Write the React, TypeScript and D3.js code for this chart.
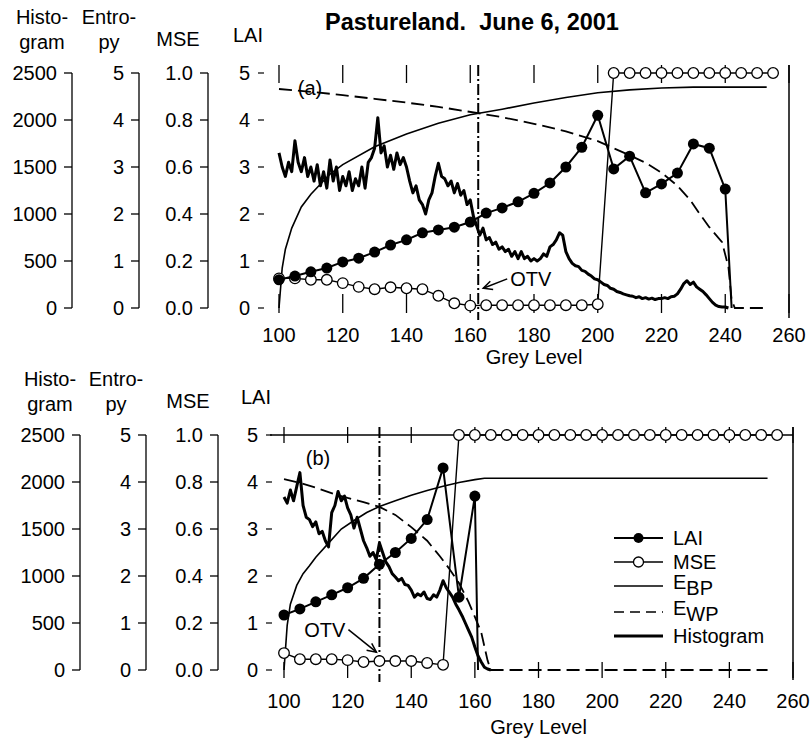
import React from "react";
import * as d3 from "d3";

// ---- axis tick values
const greyTicks = [100, 120, 140, 160, 180, 200, 220, 240, 260];
const histTicks = [0, 500, 1000, 1500, 2000, 2500];
const entropyTicks = [0, 1, 2, 3, 4, 5];
const mseTicks = [0, 0.2, 0.4, 0.6, 0.8, 1.0];
const laiTicks = [0, 1, 2, 3, 4, 5];

// ---- panel (a)
const otvA = 162.5;
const laiGreyA = [100, 105, 110, 115, 120, 125, 130, 135, 140, 145, 150, 155, 160, 165, 170, 175, 180, 185, 190, 195, 200, 205, 210, 215, 220, 225, 230, 235, 240];
const laiA = [0.6, 0.68, 0.77, 0.85, 0.98, 1.06, 1.19, 1.34, 1.45, 1.6, 1.66, 1.72, 1.83, 2.02, 2.13, 2.26, 2.44, 2.66, 3.0, 3.42, 4.1, 2.96, 3.23, 2.45, 2.64, 2.87, 3.49, 3.4, 2.53];
const laiDropA = 242;
const mseGreyA = [100, 105, 110, 115, 120, 125, 130, 135, 140, 145, 150, 155, 160, 165, 170, 175, 180, 185, 190, 195, 200, 205, 210, 215, 220, 225, 230, 235, 240, 245, 250, 255];
const mseA = [0.126, 0.126, 0.12, 0.12, 0.106, 0.09, 0.08, 0.088, 0.084, 0.08, 0.052, 0.02, 0.01, 0.012, 0.012, 0.012, 0.012, 0.012, 0.012, 0.012, 0.016, 1, 1, 1, 1, 1, 1, 1, 1, 1, 1, 1];
const ebpGreyA = [100, 101, 102, 104, 107, 110, 116, 120, 130, 140, 150, 160, 170, 180, 190, 200, 210, 220, 230, 253];
const ebpA = [0, 0.85, 1.25, 1.7, 2.15, 2.42, 2.85, 3.05, 3.43, 3.7, 3.93, 4.11, 4.23, 4.36, 4.48, 4.58, 4.64, 4.68, 4.7, 4.7];
const ewpGreyA = [100, 110, 120, 130, 140, 150, 162, 170, 180, 190, 200, 205, 210, 215, 220, 225, 229, 232, 235, 239, 241, 242, 243, 253];
const ewpA = [4.66, 4.6, 4.53, 4.45, 4.37, 4.28, 4.15, 4.06, 3.92, 3.76, 3.55, 3.4, 3.25, 3.09, 2.88, 2.6, 2.3, 2.0, 1.72, 1.4, 0.87, 0.17, 0, 0];
const histFirstGreyA = 100;
const histA = [
  1650, 1500, 1400, 1550, 1450, 1780, 1550, 1450, 1600, 1400,
  1500, 1350, 1525, 1300, 1450, 1275, 1575, 1350, 1500, 1250,
  1400, 1300, 1450, 1250, 1375, 1300, 1500, 1275, 1550, 1600,
  1700, 2025, 1650, 1725, 1500, 1625, 1475, 1650, 1525, 1600,
  1500, 1350, 1225, 1300, 1150, 1100, 1000, 1150, 1225, 1400,
  1540, 1400, 1375, 1300, 1350, 1225, 1325, 1200, 1250, 1100,
  1150, 975, 875, 775, 850, 725, 750, 675, 700, 625,
  650, 600, 625, 550, 600, 525, 600, 525, 550, 500,
  525, 500, 525, 575, 550, 650, 675, 725, 800, 775,
  600, 525, 475, 450, 440, 400, 390, 360, 340, 310,
  300, 275, 250, 240, 210, 200, 175, 165, 150, 140,
  130, 125, 110, 120, 100, 110, 95, 105, 90, 100,
  100, 110, 100, 120, 125, 150, 200, 260, 290, 250,
  275, 225, 200, 175, 140, 100, 60, 30, 15, 10,
  10, 0,
];

// ---- panel (b)
const otvB = 130;
const laiGreyB = [100, 105, 110, 115, 120, 125, 130, 135, 140, 145, 150, 155, 160];
const laiB = [1.17, 1.3, 1.45, 1.6, 1.75, 1.95, 2.25, 2.5, 2.8, 3.2, 4.3, 1.55, 3.7];
const laiDropB = 161;
const mseGreyB = [100, 105, 110, 115, 120, 125, 130, 135, 140, 145, 150, 155, 160, 165, 170, 175, 180, 185, 190, 195, 200, 205, 210, 215, 220, 225, 230, 235, 240, 245, 250, 255];
const mseB = [0.072, 0.046, 0.046, 0.046, 0.042, 0.034, 0.038, 0.038, 0.038, 0.03, 0.022, 1, 1, 1, 1, 1, 1, 1, 1, 1, 1, 1, 1, 1, 1, 1, 1, 1, 1, 1, 1, 1];
const ebpGreyB = [100, 101, 102, 104, 106, 108, 110, 114, 118, 122, 126, 130, 135, 140, 145, 150, 155, 160, 163, 252];
const ebpB = [0, 0.95, 1.4, 1.8, 2.05, 2.22, 2.4, 2.7, 3.0, 3.18, 3.35, 3.48, 3.6, 3.72, 3.82, 3.91, 3.99, 4.05, 4.08, 4.08];
const ewpGreyB = [100, 105, 110, 116, 120, 125, 130, 135, 140, 145, 149, 152, 155, 158, 160, 162, 163, 164, 165, 252];
const ewpB = [4.06, 3.98, 3.88, 3.74, 3.66, 3.57, 3.47, 3.3, 3.04, 2.75, 2.42, 2.15, 1.85, 1.45, 1.13, 0.8, 0.5, 0.2, 0, 0];
const histFirstGreyB = 100;
const histB = [
  1840, 1775, 1915, 1800, 1950, 2100, 1750, 1625, 1600, 1525,
  1575, 1450, 1475, 1375, 1310, 1675, 1750, 1900, 1800, 1850,
  1725, 1650, 1510, 1625, 1500, 1375, 1300, 1210, 1250, 1175,
  1350, 1250, 1150, 1100, 1025, 990, 950, 975, 910, 900,
  850, 775, 810, 790, 830, 760, 750, 800, 775, 850,
  950, 875, 825, 775, 700, 640, 575, 500, 425, 350,
  245, 150, 85, 30, 10, 0,
];

const FONT = "'Liberation Sans', Arial, Helvetica, sans-serif";

type Pt = [number, number];
const zip = (xs: number[], ys: number[]): Pt[] => xs.map((v, i) => [v, ys[i]]);

type Spec = {
  tag: string;
  x0: number; x1: number; yTop: number; yBot: number;
  histAxis: number; entAxis: number; mseAxis: number; laiRight: number;
  labelDy: number; titleDy: number; boxed: boolean;
  otv: number; otvText: [number, number]; otvHead: [number, number];
  tagAt: [number, number];
  lai: Pt[]; laiDrop: number; mse: Pt[]; ebp: Pt[]; ewp: Pt[]; hist: Pt[];
  legend: boolean;
};

function Panel({ p }: { p: Spec }) {
  const x = d3.scaleLinear().domain([100, 260]).range([p.x0, p.x1]);
  const yLai = d3.scaleLinear().domain([0, 5]).range([p.yBot, p.yTop]);
  const yHist = d3.scaleLinear().domain([0, 2500]).range([p.yBot, p.yTop]);
  const yMse = d3.scaleLinear().domain([0, 1]).range([p.yBot, p.yTop]);

  const lineOf = (yScale: d3.ScaleLinear<number, number>) =>
    d3.line<Pt>().x((d) => x(d[0])).y((d) => yScale(d[1]));

  const laiPath = lineOf(yLai)([...p.lai, [p.laiDrop, 0]]) as string;
  const leftAxes = [
    { at: p.histAxis, scale: yHist, ticks: histTicks, fmt: d3.format("d"), head: ["Histo-", "gram"] },
    { at: p.entAxis, scale: yLai, ticks: entropyTicks, fmt: d3.format("d"), head: ["Entro-", "py"] },
    { at: p.mseAxis, scale: yMse, ticks: mseTicks, fmt: d3.format(".1f"), head: ["", "MSE"] },
  ];

  const ox = x(p.otv);
  const [hx, hy] = [ox + p.otvHead[0], yLai(p.otvHead[1])];
  const [tx, ty] = [ox + p.otvText[0], yLai(p.otvText[1])];
  const ang = Math.atan2(hy - ty, hx - tx);
  const head = (s: number) =>
    `${hx - 10 * Math.cos(ang + s)},${hy - 10 * Math.sin(ang + s)}`;

  return (
    <g fontFamily={FONT} fontSize={20} fill="#000">
      {leftAxes.map((a, k) => (
        <g key={k}>
          <line x1={a.at} x2={a.at} y1={p.yTop} y2={p.yBot} stroke="#000" strokeWidth={1.3} />
          {a.ticks.map((t) => (
            <g key={t}>
              <line x1={a.at - 8} x2={a.at} y1={a.scale(t)} y2={a.scale(t)} stroke="#000" strokeWidth={1.3} />
              <text x={a.at - 15} y={a.scale(t)} dy="0.35em" textAnchor="end">{a.fmt(t)}</text>
            </g>
          ))}
          <text x={a.at - 30} y={p.yTop - 49} textAnchor="middle">{a.head[0]}</text>
          <text x={a.at - 30} y={p.yTop - (k === 2 ? 27 : 24)} textAnchor="middle">{a.head[1]}</text>
        </g>
      ))}
      <text x={p.laiRight - 2} y={p.yTop - 31} textAnchor="middle">LAI</text>
      {laiTicks.map((t) => (
        <g key={t}>
          <text x={p.laiRight} y={yLai(t)} dy="0.35em" textAnchor="end">{t}</text>
          <line x1={p.laiRight + 8} x2={p.laiRight + 14} y1={yLai(t)} y2={yLai(t)} stroke="#000" strokeWidth={1.2} />
        </g>
      ))}

      {/* frame and grey level ticks */}
      {p.boxed && (
        <line x1={p.laiRight + 12} x2={p.x1} y1={p.yTop} y2={p.yTop} stroke="#000" strokeWidth={1.3} />
      )}
      <line x1={p.x1} x2={p.x1} y1={p.yTop - 8} y2={p.yBot + 10} stroke="#000" strokeWidth={1.5} />
      {greyTicks.map((g) => (
        <g key={g}>
          <line x1={x(g)} x2={x(g)} y1={p.yTop - 8} y2={p.yTop + (p.boxed ? 8 : 10)} stroke="#000" strokeWidth={1.3} />
          <line x1={x(g)} x2={x(g)} y1={p.yBot - (p.boxed ? 8 : 14)} y2={p.yBot + (p.boxed ? 8 : 5)} stroke="#000" strokeWidth={1.3} />
          <text x={x(g)} y={p.yBot + p.labelDy} textAnchor="middle">{g}</text>
        </g>
      ))}
      <text x={x(180)} y={p.yBot + p.titleDy} textAnchor="middle">Grey Level</text>

      {/* optimum threshold */}
      <line x1={ox} x2={ox} y1={p.yTop - 8} y2={p.yBot + 12} stroke="#000" strokeWidth={2} strokeDasharray="11,3,2,3" />
      <text x={tx} y={ty} dy="0.35em" textAnchor={p.otvText[0] > 0 ? "start" : "end"}>OTV</text>
      <line x1={tx + (p.otvText[0] > 0 ? -3 : 3)} y1={ty} x2={hx} y2={hy} stroke="#000" strokeWidth={1.5} />
      <polyline points={`${head(0.45)} ${hx},${hy} ${head(-0.45)}`} fill="none" stroke="#000" strokeWidth={1.5} />

      {/* series */}
      <path d={lineOf(yLai)(p.ewp) as string} fill="none" stroke="#000" strokeWidth={1.8} strokeDasharray="13,6" />
      <path d={lineOf(yLai)(p.ebp) as string} fill="none" stroke="#000" strokeWidth={1.6} />
      <path d={lineOf(yHist)(p.hist) as string} fill="none" stroke="#000" strokeWidth={3} strokeLinejoin="round" />
      <path d={lineOf(yMse)(p.mse) as string} fill="none" stroke="#000" strokeWidth={1.4} />
      {p.mse.map((d, i) => (
        <circle key={i} cx={x(d[0])} cy={yMse(d[1])} r={5.3} fill="#fff" stroke="#000" strokeWidth={1.3} />
      ))}
      <path d={laiPath} fill="none" stroke="#000" strokeWidth={2} />
      {p.lai.map((d, i) => (
        <circle key={i} cx={x(d[0])} cy={yLai(d[1])} r={5.5} fill="#000" />
      ))}

      <text x={p.tagAt[0]} y={p.tagAt[1]} dy="0.35em" textAnchor="middle">{p.tag}</text>

      {p.legend && (
        <g transform="translate(614,538)">
          {["LAI", "MSE", "EBP", "EWP", "Histogram"].map((name, i) => {
            const ys = [0, 24, 48, 74, 98][i];
            return (
              <g key={name} transform={`translate(0,${ys})`}>
                <line x1={0} x2={49} y1={0} y2={0} stroke="#000"
                  strokeWidth={i === 4 ? 3 : i === 0 ? 2 : 1.5}
                  strokeDasharray={i === 3 ? "10,6" : undefined} />
                {i === 0 && <circle cx={24.5} cy={0} r={5} fill="#000" />}
                {i === 1 && <circle cx={24.5} cy={0} r={5} fill="#fff" stroke="#000" strokeWidth={1.3} />}
                {i === 2 || i === 3 ? (
                  <text x={59} y={3}>
                    E<tspan dy="6">{i === 2 ? "BP" : "WP"}</tspan>
                  </text>
                ) : (
                  <text x={59} y={0} dy="0.35em">{name}</text>
                )}
              </g>
            );
          })}
        </g>
      )}
    </g>
  );
}

const panelA: Spec = {
  tag: "(a)", x0: 279, x1: 789, yTop: 73, yBot: 308,
  histAxis: 72, entAxis: 139, mseAxis: 208, laiRight: 250,
  labelDy: 34, titleDy: 56, boxed: false,
  otv: otvA, otvText: [32, 0.62], otvHead: [5, 0.42], tagAt: [310, 88],
  lai: zip(laiGreyA, laiA), laiDrop: laiDropA, mse: zip(mseGreyA, mseA),
  ebp: zip(ebpGreyA, ebpA), ewp: zip(ewpGreyA, ewpA),
  hist: histA.map((v, i) => [histFirstGreyA + i, v] as Pt), legend: false,
};

const panelB: Spec = {
  tag: "(b)", x0: 284, x1: 793, yTop: 435, yBot: 670,
  histAxis: 80, entAxis: 146, mseAxis: 218, laiRight: 258,
  labelDy: 38, titleDy: 64, boxed: true,
  otv: otvB, otvText: [-34, 0.86], otvHead: [-3, 0.38], tagAt: [318, 458],
  lai: zip(laiGreyB, laiB), laiDrop: laiDropB, mse: zip(mseGreyB, mseB),
  ebp: zip(ebpGreyB, ebpB), ewp: zip(ewpGreyB, ewpB),
  hist: histB.map((v, i) => [histFirstGreyB + i, v] as Pt), legend: true,
};

export default function App() {
  return (
    <svg width={811} height={742} style={{ position: "absolute", left: 0, top: 0, background: "#fff" }}>
      <rect width={811} height={742} fill="#fff" />
      <text x={472} y={30} textAnchor="middle" fontFamily={FONT} fontWeight="bold" fontSize={23.5}>
        Pastureland.{"\u00a0 "}June 6, 2001
      </text>
      <Panel p={panelA} />
      <Panel p={panelB} />
    </svg>
  );
}
